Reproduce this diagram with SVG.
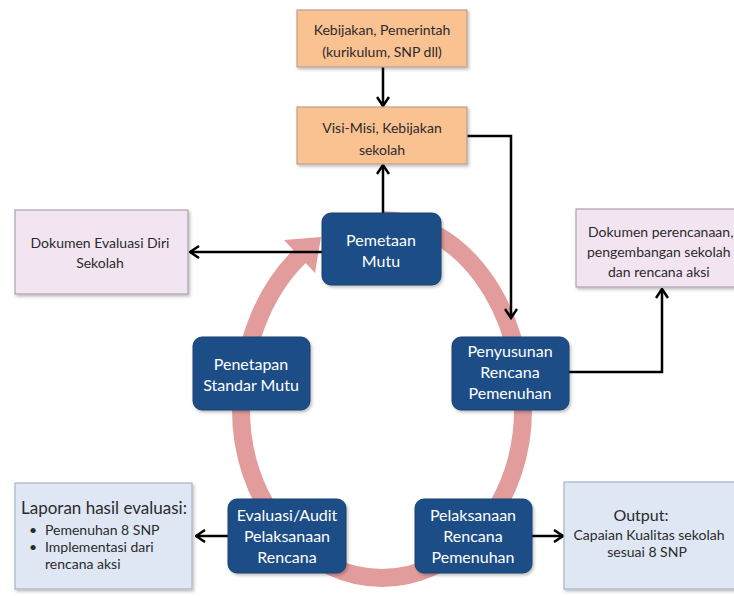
<svg xmlns="http://www.w3.org/2000/svg" width="734" height="596" viewBox="0 0 734 596">
<style>
text{font-family:Lato,"Open Sans","Liberation Sans",sans-serif;}
.node rect{fill:#1F4E87;stroke:#17406F;stroke-width:1;filter:url(#sh);}
.node text{fill:#FFFFFF;font-size:16px;text-anchor:middle;}
.org rect{fill:#FAC191;stroke:#B8A38E;stroke-width:1.2;filter:url(#sh);}
.pink rect{fill:#F2E5F1;stroke:#A8A2AE;stroke-width:1.2;filter:url(#sh);}
.blue rect{fill:#DEE7F3;stroke:#A9B5C6;stroke-width:1.2;filter:url(#sh);}
.dark{fill:#2B2B2B;font-size:14px;}
.mid{text-anchor:middle;}
.conn{fill:none;stroke:#000;stroke-width:2.5;marker-end:url(#ah);}
</style>
<defs>
<filter id="sh" x="-10%" y="-10%" width="130%" height="130%">
<feDropShadow dx="1.5" dy="2" stdDeviation="1.5" flood-color="#000" flood-opacity="0.25"/>
</filter>
<marker id="ah" viewBox="0 0 12 14" refX="10.5" refY="7" markerWidth="12" markerHeight="14" markerUnits="userSpaceOnUse" orient="auto">
<path d="M1.5,1 L10.5,7 L1.5,13" fill="none" stroke="#000" stroke-width="2.5"/>
</marker>
</defs>
<rect width="734" height="596" fill="#FFFFFF"/>

<g id="cycle">
<path d="M382,220 A141,190 0 0 1 523,410 A141,168 0 0 1 382,578 A141,168 0 0 1 241,410 A141,190 0 0 1 300,256" fill="none" stroke="#E29C9B" stroke-width="18"/>
<polygon points="321,237 284,240 315,273" fill="#E29C9B"/>
</g>

<g id="connectors">
<path class="conn" d="M383,67 V106"/>
<path class="conn" d="M383,213 V165"/>
<path class="conn" d="M467,136 H511 V318"/>
<path class="conn" d="M322,252 H190"/>
<path class="conn" d="M569,372 H662 V289"/>
<path class="conn" d="M228,536 H196"/>
<path class="conn" d="M532,536 H563"/>
</g>

<g id="kebijakan-pemerintah" class="org">
<rect x="297" y="10" width="170" height="57"/>
<text class="dark mid" x="382" y="35">Kebijakan, Pemerintah</text>
<text class="dark mid" x="382" y="57">(kurikulum, SNP dll)</text>
</g>
<g id="visi-misi" class="org">
<rect x="297" y="107" width="170" height="57"/>
<text class="dark mid" x="382" y="133">Visi-Misi, Kebijakan</text>
<text class="dark mid" x="382" y="155">sekolah</text>
</g>

<g id="dokumen-evaluasi" class="pink">
<rect x="15" y="210" width="173" height="84"/>
<text class="dark mid" x="100" y="248">Dokumen Evaluasi Diri</text>
<text class="dark mid" x="100" y="268">Sekolah</text>
</g>
<g id="dokumen-perencanaan" class="pink">
<rect x="576" y="209" width="170" height="78"/>
<text class="dark" x="588" y="237">Dokumen perencanaan,</text>
<text class="dark" x="587" y="257">pengembangan sekolah</text>
<text class="dark" x="608" y="277">dan rencana aksi</text>
</g>

<g id="laporan" class="blue">
<rect x="15" y="483" width="177" height="106"/>
<text class="dark" x="21" y="514" style="font-size:17px">Laporan hasil evaluasi:</text>
<text class="dark" x="29" y="535">•</text>
<text class="dark" x="45" y="535">Pemenuhan 8 SNP</text>
<text class="dark" x="29" y="552">•</text>
<text class="dark" x="45" y="552">Implementasi dari</text>
<text class="dark" x="45" y="569">rencana aksi</text>
</g>
<g id="output" class="blue">
<rect x="564" y="482" width="176" height="107"/>
<text class="dark mid" x="641" y="521" style="font-size:16px">Output:</text>
<text class="dark mid" x="649" y="540">Capaian Kualitas  sekolah</text>
<text class="dark mid" x="647" y="557">sesuai 8 SNP</text>
</g>

<g id="pemetaan-mutu" class="node">
<rect x="322" y="213" width="119" height="72" rx="9"/>
<text x="381" y="246">Pemetaan</text>
<text x="381" y="267">Mutu</text>
</g>
<g id="penetapan-standar" class="node">
<rect x="193" y="337" width="117" height="73" rx="9"/>
<text x="251" y="370">Penetapan</text>
<text x="251" y="391">Standar Mutu</text>
</g>
<g id="penyusunan-rencana" class="node">
<rect x="452" y="337" width="117" height="73" rx="9"/>
<text x="510" y="357">Penyusunan</text>
<text x="510" y="378">Rencana</text>
<text x="510" y="399">Pemenuhan</text>
</g>
<g id="evaluasi-audit" class="node">
<rect x="228" y="499" width="118" height="74" rx="9"/>
<text x="287" y="521">Evaluasi/Audit</text>
<text x="287" y="542">Pelaksanaan</text>
<text x="287" y="563">Rencana</text>
</g>
<g id="pelaksanaan-rencana" class="node">
<rect x="415" y="499" width="117" height="74" rx="9"/>
<text x="473" y="521">Pelaksanaan</text>
<text x="473" y="542">Rencana</text>
<text x="473" y="563">Pemenuhan</text>
</g>
</svg>
